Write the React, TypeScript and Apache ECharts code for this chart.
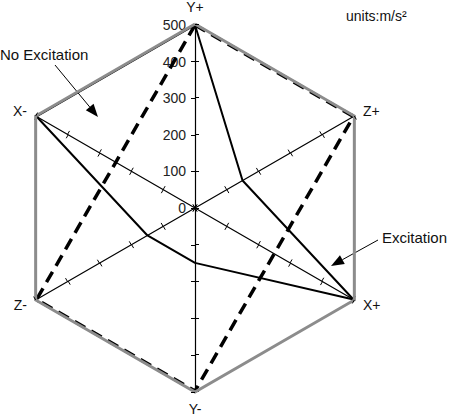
import React, { useEffect, useRef } from 'react';
import * as echarts from 'echarts';

// axes in ECharts order (counter-clockwise from the top)
const axisNames = ['Y+', 'X-', 'Z-', 'Y-', 'X+', 'Z+'];
const axisMax = 500;
const excitation = [500, 500, 150, 150, 500, 150];
const noExcitation = [500, 250, 500, 500, 250, 500];

const FONT = 'Liberation Sans, Arial, sans-serif';

// line with a filled head at (x2, y2)
function arrow(x1: number, y1: number, x2: number, y2: number) {
  const a = Math.atan2(y2 - y1, x2 - x1);
  const len = 13;
  const w = 5;
  const bx = x2 - len * Math.cos(a);
  const by = y2 - len * Math.sin(a);
  return [
    { type: 'line', shape: { x1, y1, x2: bx, y2: by }, style: { stroke: '#000', lineWidth: 1 } },
    {
      type: 'polygon',
      shape: {
        points: [
          [x2, y2],
          [bx + w * Math.sin(a), by - w * Math.cos(a)],
          [bx - w * Math.sin(a), by + w * Math.cos(a)],
        ],
      },
      style: { fill: '#000' },
    },
  ];
}

const App: React.FC = () => {
  const chartRef = useRef<HTMLDivElement>(null);

  useEffect(() => {
    const chart = echarts.init(chartRef.current!, null, { renderer: 'svg' });

    const indicator = axisNames.map((name, i) => ({
      name,
      min: 0,
      max: axisMax,
      ...(i === 0 ? { axisLabel: { show: true } } : {}),
    }));

    // only the outer ring is drawn
    const ringColors = ['none', 'none', 'none', 'none', 'none', '#8c8c8c'];

    const options = {
      animation: false,
      textStyle: { fontFamily: FONT },
      radar: [
        {
          center: [195, 208],
          radius: 183,
          shape: 'polygon',
          startAngle: 90,
          splitNumber: 5,
          indicator,
          nameGap: 11,
          axisName: { color: '#111', fontSize: 14, fontFamily: FONT },
          axisLine: { lineStyle: { color: '#000', width: 1.2 } },
          axisTick: { show: true, length: 4, lineStyle: { color: '#000', width: 1 } },
          axisLabel: { show: false, color: '#222', fontSize: 14, margin: 9, fontFamily: FONT },
          splitLine: { show: false },
          splitArea: { show: false },
        },
        {
          // outer border on top of the series, plus ticks on the other side
          z: 3,
          center: [195, 208],
          radius: 184,
          shape: 'polygon',
          startAngle: 90,
          splitNumber: 5,
          indicator: axisNames.map((name) => ({ name, min: 0, max: axisMax })),
          axisName: { show: false },
          axisLine: { show: false },
          axisTick: { show: true, length: -4, lineStyle: { color: '#000', width: 1 } },
          axisLabel: { show: false },
          splitLine: { lineStyle: { color: ringColors, width: 3 } },
          splitArea: { show: false },
        },
      ],
      series: [
        {
          type: 'radar',
          radarIndex: 0,
          symbol: 'none',
          data: [
            {
              name: 'Excitation',
              value: excitation,
              lineStyle: { color: '#000', width: 2, type: 'solid' },
            },
            {
              name: 'No Excitation',
              value: noExcitation,
              lineStyle: { color: '#000', width: 3.5, type: [12, 7] },
            },
          ],
        },
      ],
      graphic: [
        {
          type: 'text',
          left: 346,
          top: 9,
          style: { text: 'units:m/s²', fontSize: 14, fill: '#111', fontFamily: FONT },
        },
        {
          type: 'text',
          left: 0,
          top: 47,
          style: { text: 'No Excitation', fontSize: 15, fill: '#111', fontFamily: FONT },
        },
        {
          type: 'text',
          left: 382,
          top: 230,
          style: { text: 'Excitation', fontSize: 15, fill: '#111', fontFamily: FONT },
        },
        ...arrow(55, 65, 98, 117),
        ...arrow(378, 240, 331, 266),
      ],
    };

    chart.setOption(options as any);

    return () => {
      chart.dispose();
    };
  }, []);

  return (
    <div
      ref={chartRef}
      style={{ position: 'absolute', left: 0, top: 0, width: '450px', height: '416px' }}
    />
  );
};

export default App;
